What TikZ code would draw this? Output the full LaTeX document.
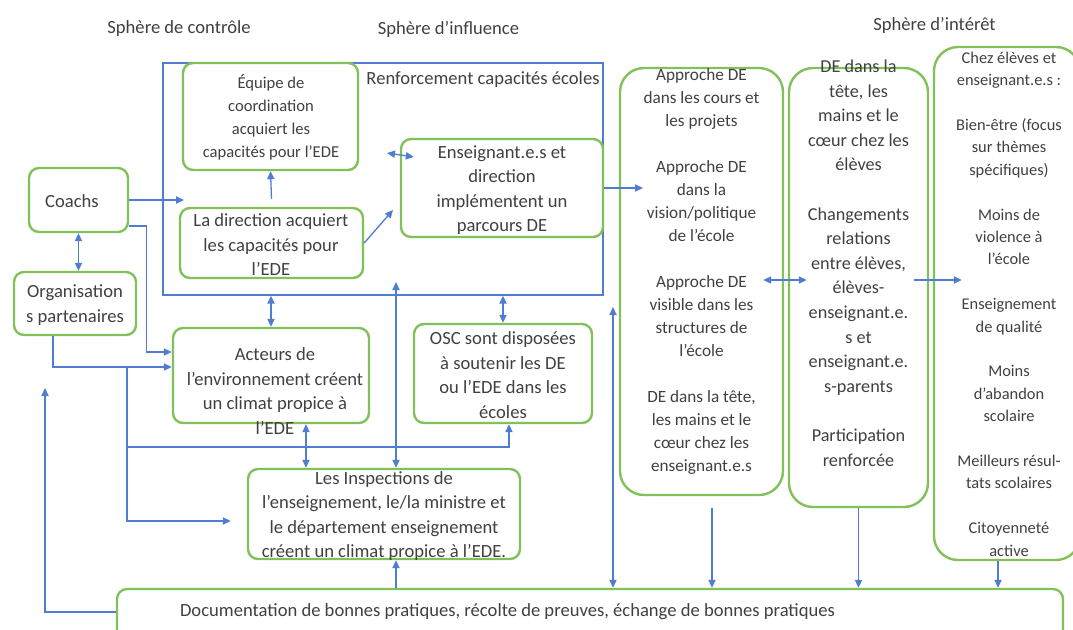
\documentclass[tikz,border=0pt]{standalone}
\usepackage{fontspec}
\setmainfont{Carlito}
\usepackage{xcolor}
\usepackage{tikz}
\usetikzlibrary{arrows.meta,fit,positioning}

\definecolor{boxgreen}{RGB}{130,192,90}
\definecolor{lineblue}{RGB}{80,125,210}
\definecolor{textgray}{RGB}{64,64,64}

\begin{document}
\begin{tikzpicture}[
    x=0.5pt, y=-0.5pt,
    gbox/.style={draw=boxgreen, line width=1.2pt, rounded corners=5pt, inner sep=0pt},
    bigbox/.style={gbox, rounded corners=12pt},
    bbox/.style={draw=lineblue, line width=0.65pt, inner sep=0pt},
    txt/.style={align=center, text=textgray, inner sep=0pt, font=\fontsize{9.3}{12.25}\selectfont},
    stxt/.style={txt, font=\fontsize{8.3}{11.4}\selectfont},
    arr/.style={draw=lineblue, line width=0.65pt, -{Triangle[length=4pt,width=3.6pt]}},
    darr/.style={arr, {Triangle[length=4pt,width=3.6pt]}-{Triangle[length=4pt,width=3.6pt]}}
]
                \useasboundingbox (0,0) rectangle (1073,629);

                % titres des spheres
                \node[txt] (tctrl) at (179,29) {Sphère de contrôle};
                \node[txt] (tinfl) at (448.5,29) {Sphère d’influence};
                \node[txt] (tint) at (934.5,25) {Sphère d’intérêt};

                % sphere de controle
                \node[gbox, fit={(29,168) (128,232)}] (coachs) {};
                \node[txt] (coachst) at (72,201) {Coachs};

                \node[gbox, fit={(14,272) (136,335)}] (org) {};
                \node[txt] (orgt) at (75,305) {Organisation\\s partenaires};

                % renforcement capacites ecoles
                \node[bbox, fit={(163,63) (603,295)}] (renf) {};
                \node[txt] (renft) at (483,80) {Renforcement capacités écoles};

                \node[gbox, fit={(183,63) (358,170)}] (equipe) {};
                \node[stxt] (equipet) at (271,117.5) {Équipe de\\coordination\\acquiert les\\capacités pour l’EDE};

                \node[gbox, fit={(180,208) (363,278)}] (dir) {};
                \node[txt] (dirt) at (271,245) {La direction acquiert\\les capacités pour\\l’EDE};

                \node[gbox, fit={(401,139) (603,237)}] (ens) {};
                \node[txt] (enst) at (502,190) {Enseignant.e.s et\\direction\\implémentent un\\parcours DE};

                % environnement
                \node[gbox, fit={(173,328) (369,423)}] (acteurs) {};
                \node[txt] (acteurst) at (275,391) {Acteurs de\\l’environnement créent\\un climat propice à\\l’EDE};

                \node[gbox, fit={(414,324) (592,423)}] (osc) {};
                \node[txt] (osct) at (503,375) {OSC sont disposées\\à soutenir les DE\\ou l’EDE dans les\\écoles};

                \node[gbox, fit={(248,469) (520,559)}] (insp) {};
                \node[txt] (inspt) at (384,516) {Les Inspections de\\l’enseignement, le/la ministre et\\le département enseignement\\créent un climat propice à l’EDE.};

                \node[gbox, fit={(117,589) (1063,660)}] (doc) {};
                \node[txt] (doct) at (507.5,612) {Documentation de bonnes pratiques, récolte de preuves, échange de bonnes pratiques};

                % sphere d'interet
                \node[bigbox, fit={(620,68) (783,495)}] (appr) {};
                \node[txt, font=\fontsize{8.6}{11.5}\selectfont] (apprt) at (701.5,271) {Approche DE\\dans les cours et\\les projets\\[11.5pt]
                    Approche DE\\dans la\\vision/politique\\de l’école\\[11.5pt]
                    Approche DE\\visible dans les\\structures de\\l’école\\[11.5pt]
                    DE dans la tête,\\les mains et le\\cœur chez les\\enseignant.e.s};

                \node[bigbox, fit={(789,68) (928,507)}] (de) {};
                \node[txt, font=\fontsize{9.1}{12.3}\selectfont] (det) at (858.5,263) {DE dans la\\tête, les\\mains et le\\cœur chez les\\élèves\\[12.3pt]
                    Changements\\relations\\entre élèves,\\élèves-\\enseignant.e.\\s et\\enseignant.e.\\s-parents\\[12.3pt]
                    Participation\\renforcée};

                \node[bigbox, fit={(934,47) (1080,560)}] (chez) {};
                \node[txt, font=\fontsize{8.2}{11.2}\selectfont] (chezt) at (1009,304) {Chez élèves et\\enseignant.e.s :\\[11.2pt]
                    Bien-être (focus\\sur thèmes\\spécifiques)\\[11.2pt]
                    Moins de\\violence à\\l’école\\[11.2pt]
                    Enseignement\\de qualité\\[11.2pt]
                    Moins\\d’abandon\\scolaire\\[11.2pt]
                    Meilleurs résul-\\tats scolaires\\[11.2pt]
                    Citoyenneté\\active};

                % points libres
                \coordinate (c1) at (184,200);
                \coordinate (j1) at (127,367);
                \coordinate (j2) at (127,447);
                \coordinate (r1) at (396,282);
                \coordinate (e1) at (393,210);
                \coordinate (d1) at (387,153);
                \coordinate (e2) at (643,188);
                \coordinate (v1) at (613,307);
                \coordinate (u1) at (45,388);
                \coordinate (a7) at ([xshift=17.5pt]acteurs.south);
                \coordinate (a1) at ([xshift=5.25pt,yshift=-6pt]appr.south);
                \coordinate (h1) at ([xshift=-4.5pt]chez.south);

                % connecteurs
                \draw[arr] (coachs.east) -- (c1);
                \draw[darr] (coachs.south) -- (coachs.south |- org.north);
                \draw[arr] ([yshift=-13pt]coachs.east) -- ++(17,0) |- ([yshift=11.75pt]acteurs.west);
                \draw[arr] ([xshift=-11pt]org.south) |- ([yshift=4.25pt]acteurs.west);
                \draw[arr, shorten >=8pt] (j1) |- ([yshift=-3.5pt]insp.west);
                \draw[arr] (j2) -| ([xshift=3pt]osc.south);

                \draw[darr] (a7) -- (a7 |- insp.north);
                \draw[darr] (r1) -- (r1 |- insp.north);
                \draw[arr] (r1 |- doc.north) -- (r1 |- insp.south);
                \draw[darr] (acteurs.north) -- (acteurs.north |- renf.south);
                \draw[darr] (osc.north) -- (osc.north |- renf.south);

                \draw[arr] ([yshift=4pt]dir.north) -- (equipe.south);
                \draw[arr] (dir.east) -- (e1);
                \draw[darr] (d1) -- ([xshift=7pt,yshift=15.5pt]ens.west);
                \draw[arr] (ens.east) -- (e2);

                \draw[darr] ([xshift=-10.5pt,yshift=0.75pt]appr.east) -- ([xshift=9.5pt,yshift=3.75pt]de.west);
                \draw[arr] ([xshift=-7.5pt,yshift=3.75pt]de.east) -- ([xshift=14.5pt,yshift=11.75pt]chez.west);

                \draw[darr] (v1) -- (v1 |- doc.north);
                \draw[arr] (a1) -- (a1 |- doc.north);
                \draw[arr] (de.south) -- (de.south |- doc.north);
                \draw[arr] (h1) -- (h1 |- doc.north);
                \draw[arr] ([yshift=6.25pt]doc.west) -| (u1);

            \end{tikzpicture}
\end{document}
